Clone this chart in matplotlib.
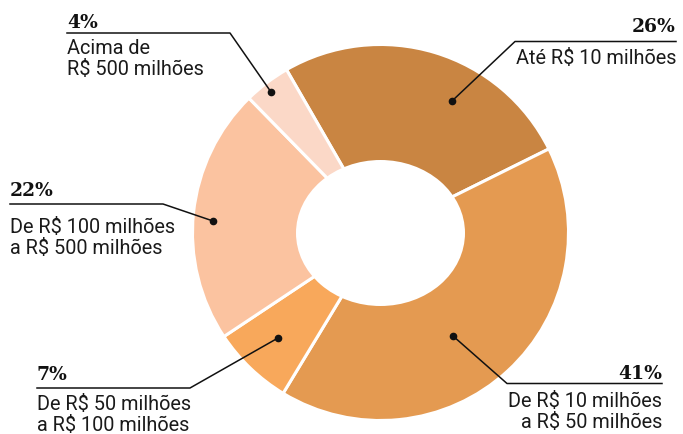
import matplotlib.pyplot as plt
from matplotlib.patches import Ellipse

# Data
shares = [26, 41, 7, 22, 4]
pct_labels = ['26%', '41%', '7%', '22%', '4%']
range_labels = ['Até R$ 10 milhões',
                'De R$ 10 milhões\na R$ 50 milhões',
                'De R$ 50 milhões\na R$ 100 milhões',
                'De R$ 100 milhões\na R$ 500 milhões',
                'Acima de\nR$ 500 milhões']
colors = ['#C98542', '#E49A51', '#F8A85B', '#FBC3A0', '#FBD8C7']

# Layout (pixel coords, y down)
cx, cy, r = 380.5, 233.5, 188
# percent text (x, baseline y, ha), label first baseline, leader line: text end, elbow, dot
annot = [
    dict(x=676, y=32, ha='right', ly=64, line=[(676, 42.5), (515, 42.5), (452, 102)]),
    dict(x=662, y=379, ha='right', ly=407, line=[(662, 384.5), (507, 384.5), (453, 337)]),
    dict(x=37, y=380, ha='left', ly=410, line=[(37, 389), (190, 389), (278, 339)]),
    dict(x=10, y=196, ha='left', ly=233, line=[(10, 205), (163, 205), (213, 222)]),
    dict(x=67, y=28, ha='left', ly=54, line=[(67, 34), (230, 34), (271, 93)]),
]

fig = plt.figure(figsize=(6.83, 4.35), dpi=100, facecolor='white')
ax = fig.add_axes([0, 0, 1, 1])

# y axis is inverted, so angles flip: visual clockwise from 120 deg
ax.pie(shares, colors=colors, center=(cx, cy), radius=r,
       startangle=-120, counterclock=True,
       wedgeprops=dict(edgecolor='white', linewidth=2.2))
ax.add_patch(Ellipse((cx, cy + 0.5), 169, 146, facecolor='white', edgecolor='none', zorder=5))

ax.set_xlim(0, 683)
ax.set_ylim(435, 0)
ax.set_aspect('auto')
ax.axis('off')

for p, lab, a in zip(pct_labels, range_labels, annot):
    ax.text(a['x'], a['y'], p, ha=a['ha'], va='baseline', fontsize=13.5,
            fontweight='bold', family='DejaVu Serif', color='#111111')
    for i, line in enumerate(lab.split('\n')):
        ax.text(a['x'], a['ly'] + i * 21, line, ha=a['ha'], va='baseline',
                fontsize=14.3, family='Roboto', color='#1a1a1a')
    xs = [pt[0] for pt in a['line']]
    ys = [pt[1] for pt in a['line']]
    ax.plot(xs, ys, color='#111111', linewidth=1.1, zorder=6)
    ax.plot(xs[-1], ys[-1], 'o', color='#111111', markersize=4.5, zorder=7)

plt.savefig('out.png', dpi=100, facecolor='white')
